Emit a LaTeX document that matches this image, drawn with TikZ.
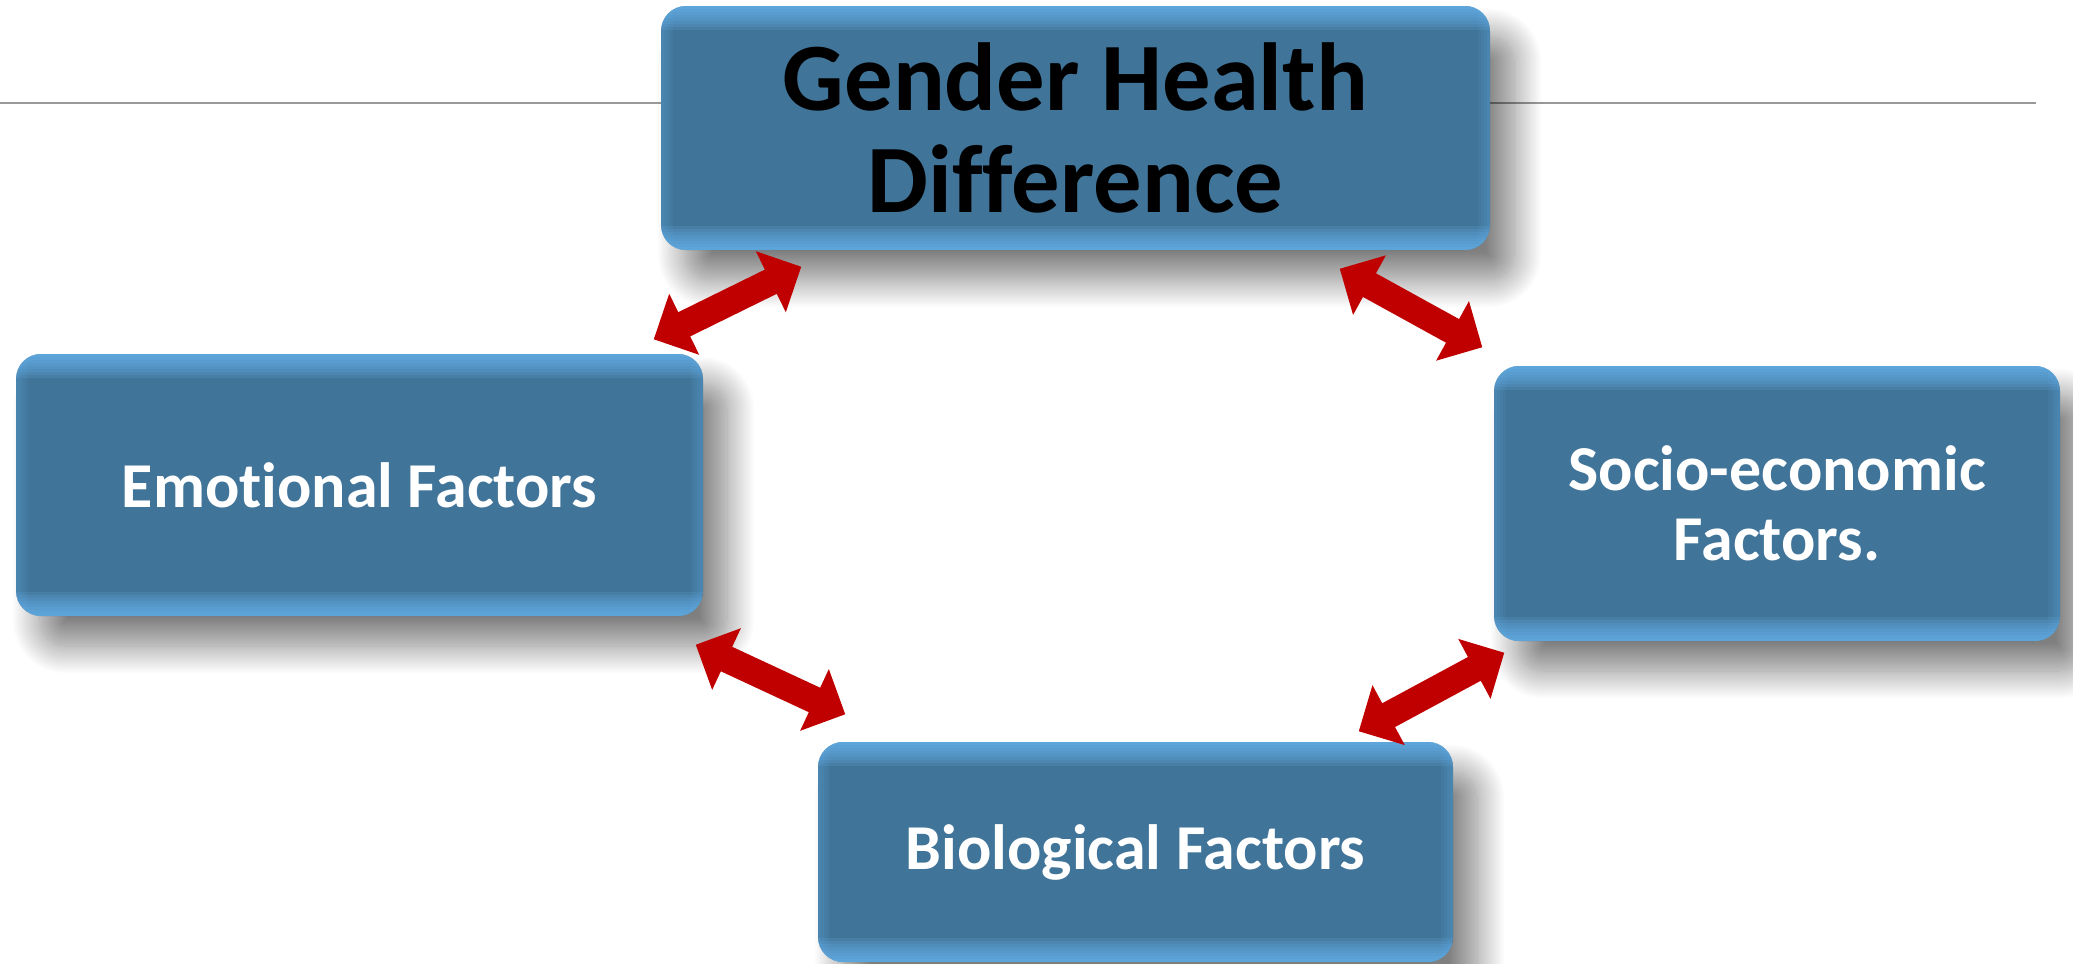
\documentclass[tikz,border=0pt]{standalone}
\usepackage{fontspec}
\setmainfont{Carlito}[Ligatures=NoCommon]
\usetikzlibrary{arrows.meta,shadows.blur}
\definecolor{boxfill}{RGB}{65,116,153}
\definecolor{boxedge}{RGB}{108,188,248}
\definecolor{arrowred}{RGB}{192,0,0}
\tikzset{
  factor/.style={rounded corners=0.25cm, fill=boxfill, align=center, inner sep=0pt,
    font=\bfseries\fontsize{18.2}{19.8}\selectfont, text=white,
    blur shadow={shadow xshift=0.24cm, shadow yshift=-0.3cm, shadow blur radius=0.28cm, shadow opacity=50, shadow blur steps=24},
    path picture={
      \foreach \gl in {0.03,0.06,...,0.25} {
        \fill[sharp corners, boxedge, opacity=0.14] (path picture bounding box.north west) rectangle ([yshift=-\gl cm]path picture bounding box.north east);
        \fill[sharp corners, boxedge, opacity=0.14] (path picture bounding box.south west) rectangle ([yshift=\gl cm]path picture bounding box.south east);
      }
      \foreach \gl in {0.03,0.06,...,0.13} {
        \fill[sharp corners, boxedge, opacity=0.07] (path picture bounding box.south west) rectangle ([xshift=\gl cm]path picture bounding box.north west);
        \fill[sharp corners, boxedge, opacity=0.07] (path picture bounding box.south east) rectangle ([xshift=-\gl cm]path picture bounding box.north east);
      }
    }},
  link/.style={arrowred, line width=0.27cm, {Triangle[width=0.66cm,length=0.34cm]}-{Triangle[width=0.66cm,length=0.34cm]}}
}
\begin{document}
\begin{tikzpicture}
\useasboundingbox (0,0) rectangle (20.73,9.63);
\draw[gray!80, line width=0.7pt] (0,8.60) -- (20.36,8.60);

\node[factor, minimum width=8.29cm, minimum height=2.44cm, text=black,
  font=\bfseries\fontsize{27.5}{30}\selectfont] (gender) at (10.755,8.35) {Gender Health\\[-1pt]Difference};
\node[factor, minimum width=6.87cm, minimum height=2.62cm] (emotional) at (3.595,4.78) {Emotional Factors};
\node[factor, minimum width=5.66cm, minimum height=2.75cm] (socio) at (17.77,4.595) {Socio-economic\\Factors.};
\node[factor, minimum width=6.35cm, minimum height=2.2cm] (biological) at (11.355,1.11) {Biological Factors};

\draw[link] ([xshift=-0.50cm,yshift=0.14cm]emotional.north east) -- ([xshift=1.41cm,yshift=-0.16cm]gender.south west);
\draw[link] ([xshift=-1.51cm,yshift=-0.18cm]gender.south east) -- ([xshift=-0.11cm,yshift=0.18cm]socio.north west);
\draw[link] ([xshift=-0.08cm,yshift=-0.28cm]emotional.south east) -- ([xshift=0.28cm,yshift=0.27cm]biological.north west);
\draw[link] ([xshift=-0.95cm,yshift=0.10cm]biological.north east) -- ([xshift=0.11cm,yshift=-0.11cm]socio.south west);
\end{tikzpicture}
\end{document}
